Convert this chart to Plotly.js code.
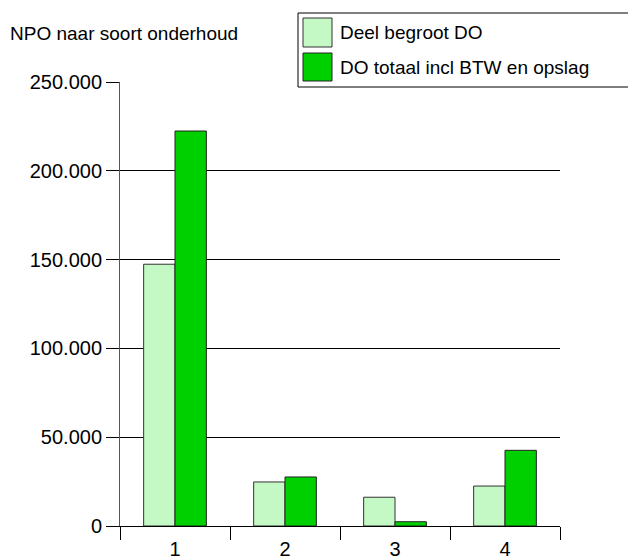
<!DOCTYPE html>
<html>
<head>
<meta charset="utf-8">
<script src="https://cdn.plot.ly/plotly-3.0.1.min.js"></script>
<style>html,body{margin:0;padding:0;background:#fff;}#chart{width:628px;height:559px;}</style>
</head>
<body>
<div id="chart"></div>
<script>
const chartTitle = "NPO naar soort onderhoud";
const categories = ["1", "2", "3", "4"];
const seriesNames = ["Deel begroot DO", "DO totaal incl BTW en opslag"];
const deelBegroot = [147400, 24800, 16200, 22500];
const doTotaal = [222400, 27600, 2400, 42600];
const yTickVals = [0, 50000, 100000, 150000, 200000, 250000];
const colors = ["#c4f8c4", "#00d000"];

// plot area in pixels
const L = 120, R = 560, T = 82, B = 526;
const px = x => (x - L) / (R - L);
const py = y => (B - y) / (B - T);
const FONT = "Liberation Sans, Arial, sans-serif";

const traces = [
  {type: "bar", x: categories, y: deelBegroot, name: seriesNames[0],
   marker: {color: colors[0], line: {color: "#333", width: 1}}, showlegend: false, hoverinfo: "y"},
  {type: "bar", x: categories, y: doTotaal, name: seriesNames[1],
   marker: {color: colors[1], line: {color: "#222", width: 1}}, showlegend: false, hoverinfo: "y"}
];

const shapes = [
  {type: "rect", xref: "paper", yref: "paper", x0: px(298), x1: px(660), y0: py(87), y1: py(13),
   line: {color: "#000", width: 1}, fillcolor: "rgba(0,0,0,0)"},
  {type: "rect", xref: "paper", yref: "paper", x0: px(303), x1: px(332), y0: py(47), y1: py(18),
   line: {color: "#333", width: 1}, fillcolor: colors[0]},
  {type: "rect", xref: "paper", yref: "paper", x0: px(303), x1: px(332), y0: py(81), y1: py(53),
   line: {color: "#222", width: 1}, fillcolor: colors[1]}
];

const annotations = [
  {xref: "paper", yref: "paper", x: px(338), y: py(33), xanchor: "left", yanchor: "middle",
   text: seriesNames[0], showarrow: false, font: {family: FONT, size: 19, color: "#000"}},
  {xref: "paper", yref: "paper", x: px(338), y: py(67), xanchor: "left", yanchor: "middle",
   text: seriesNames[1], showarrow: false, font: {family: FONT, size: 19, color: "#000"}}
];

const layout = {
  width: 628, height: 559,
  margin: {l: L, r: 628 - R, t: T, b: 559 - B, pad: 0},
  paper_bgcolor: "#fff", plot_bgcolor: "#fff",
  separators: ",.",
  font: {family: FONT, size: 20, color: "#000"},
  title: {text: chartTitle, xref: "container", yref: "container", x: 10 / 628, xanchor: "left",
          y: 1 - 33 / 559, yanchor: "middle", font: {family: FONT, size: 19, color: "#000"}},
  barmode: "group", bargap: 0.43, bargroupgap: 0,
  showlegend: false,
  xaxis: {type: "category", showline: true, linecolor: "#000", linewidth: 1,
          ticks: "outside", tickson: "boundaries", ticklen: 13, tickcolor: "#000", tickwidth: 1,
          showgrid: false, zeroline: false, tickfont: {family: FONT, size: 20}, ticklabelstandoff: 5},
  yaxis: {range: [0, 250000], tickvals: yTickVals, tickformat: ",d", showline: true, linecolor: "#555", linewidth: 1,
          ticks: "outside", ticklen: 13, tickcolor: "#000", tickwidth: 1,
          showgrid: true, gridcolor: "#000", gridwidth: 1, zeroline: false,
          tickfont: {family: FONT, size: 20}, ticklabelstandoff: 0},
  shapes: shapes,
  annotations: annotations
};

Plotly.newPlot("chart", traces, layout, {displayModeBar: false, staticPlot: true});
</script>
</body>
</html>
